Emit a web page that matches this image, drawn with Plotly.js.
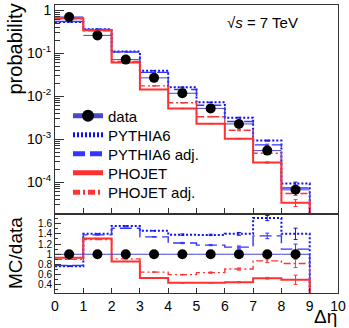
<!DOCTYPE html>
<html><head><meta charset="utf-8">
<script src="https://cdn.plot.ly/plotly-3.0.1.min.js"></script>
<style>html,body{margin:0;padding:0;background:#fff}#c{width:349px;height:328px}</style>
</head><body><div id="c"></div>
<script>
// ---- data ----
const binEdges = [0,1,2,3,4,5,6,7,8,9,10];
const binCenters = [0.5,1.5,2.5,3.5,4.5,5.5,6.5,7.5,8.5];
const xTickVals = [0,1,2,3,4,5,6,7,8,9,10];
const dataProb   = [0.70, 0.26, 0.071, 0.0267, 0.0117, 0.0052, 0.00226, 0.00054, 0.000066];
const pythia6    = [0.536, 0.364, 0.110, 0.0390, 0.0162, 0.00718, 0.00316, 0.000923, 0.0000924];
const pythia6Adj = [0.546, 0.359, 0.107, 0.0358, 0.0143, 0.00614, 0.00258, 0.000734, 0.0000726];
const phojet     = [0.651, 0.341, 0.0611, 0.0143, 0.00515, 0.00229, 0.00102, 0.000286, 0.0000330];
const phojetAdj  = [0.630, 0.335, 0.0646, 0.0174, 0.00702, 0.00333, 0.00161, 0.000470, 0.0000541];
const ratioPythia6    = [0.765, 1.40, 1.555, 1.46, 1.385, 1.38, 1.40, 1.71, 1.40];
const ratioPythia6Adj = [0.78, 1.38, 1.51, 1.34, 1.22, 1.18, 1.14, 1.36, 1.10];
const ratioPhojet     = [0.93, 1.31, 0.86, 0.535, 0.44, 0.44, 0.45, 0.53, 0.50];
const ratioPhojetAdj  = [0.90, 1.29, 0.91, 0.65, 0.60, 0.64, 0.71, 0.87, 0.82];
// relative statistical uncertainties of the MC
const relErrPythia6    = [0,0,0,0,0.01,0.01,0.02,0.03,0.08];
const relErrPythia6Adj = [0,0,0,0,0.01,0.01,0.02,0.04,0.09];
const relErrPhojet     = [0,0,0,0,0.01,0.01,0.02,0.03,0.18];
const relErrPhojetAdj  = [0,0,0,0,0.01,0.02,0.03,0.04,0.10];
const logTickVals = [1, 0.1, 0.01, 0.001, 0.0001];
const logTickText = ['1','10<sup>-1</sup>','10<sup>-2</sup>','10<sup>-3</sup>','10<sup>-4</sup>'];
const ratioTickVals = [0.4,0.6,0.8,1,1.2,1.4,1.6];
const ratioTickText = ['0.4','0.6','0.8','1','1.2','1.4','1.6'];

// ---- styles ----
const FONT = 'Liberation Sans, Arial, Helvetica, sans-serif';
const BLUE = '#1010f0', RED = '#ff3030', DATALINE = '#4848c8', AX = '#333';
const series = [
  {name:'PYTHIA6',      top:pythia6,    ratio:ratioPythia6,    err:relErrPythia6,    color:BLUE, dash:'2px,2px',          width:2,   lg:'legend2'},
  {name:'PYTHIA6 adj.', top:pythia6Adj, ratio:ratioPythia6Adj, err:relErrPythia6Adj, color:'#3535ff', dash:'12px,5px',  width:1.4, lg:'legend3'},
  {name:'PHOJET',       top:phojet,     ratio:ratioPhojet,     err:relErrPhojet,     color:RED,  dash:'solid',            width:2,   lg:'legend4'},
  {name:'PHOJET adj.',  top:phojetAdj,  ratio:ratioPhojetAdj,  err:relErrPhojetAdj,  color:'#ff3535', dash:'7px,3px,2px,3px', width:1.4, lg:'legend5'}
];
const LOG_FLOOR = 1e-8; // empty bins on the log panel

function stepTrace(vals, empty, xa, ya, s, showLeg) {
  const x = binEdges.slice();
  const y = vals.concat([empty, empty]);
  return {x:x, y:y, xaxis:xa, yaxis:ya, mode:'lines', line:{shape:'hv', color:s.color, width:s.width, dash:s.dash},
          name:s.name, showlegend:showLeg, legend:s.lg, hoverinfo:'skip', cliponaxis:true};
}
function errTrace(vals, rel, xa, ya, s) {
  return {x:binCenters, y:vals, xaxis:xa, yaxis:ya, mode:'markers', marker:{size:1, opacity:0, color:s.color},
          error_y:{type:'data', array:vals.map((v,i)=>v*rel[i]), color:s.color, thickness:1, width:2},
          showlegend:false, hoverinfo:'skip'};
}
function dataTrace(vals, xa, ya, showLeg) {
  const x=[], y=[], sz=[];
  vals.forEach((v,i)=>{ x.push(binEdges[i], binCenters[i], binEdges[i+1], null); y.push(v,v,v,null); sz.push(0,10,0,0); });
  return {x:x, y:y, xaxis:xa, yaxis:ya, mode:'lines+markers', name:'data', legend:'legend', showlegend:showLeg,
          line:{color:DATALINE, width:1}, marker:{color:'#000', size:sz, opacity:1, line:{width:0, color:'#000'}}, hoverinfo:'skip'};
}

const traces = [];
series.forEach(s => traces.push(stepTrace(s.top, LOG_FLOOR, 'x2', 'y', s, true)));
series.forEach(s => traces.push(errTrace(s.top, s.err, 'x2', 'y', s)));
traces.push(dataTrace(dataProb, 'x2', 'y', true));
series.forEach(s => traces.push(stepTrace(s.ratio, 0, 'x', 'y2', s, false)));
series.forEach(s => traces.push(errTrace(s.ratio, s.err, 'x', 'y2', s)));
traces.push(dataTrace(dataProb.map(v => v / v), 'x', 'y2', false));

const minorLog = [];
for (let k=-5;k<=0;k++) for (let m=2;m<=9;m++) minorLog.push(m*Math.pow(10,k));

// plot area: y from 5 to 293 px (288 px)
function py(p){ return (293 - p) / 288; }
function px(p){ return (p - 55) / 283; }
const legRowY = [116, 135, 154, 173, 192.5];
function leg(i){ return {x:px(68), y:py(legRowY[i]), xanchor:'left', yanchor:'middle', bgcolor:'rgba(0,0,0,0)',
  borderwidth:0, font:{family:FONT, size:15, color:'#000'}, itemsizing:'constant', itemwidth:30, tracegroupgap:0}; }

const axisCommon = {showline:true, mirror:true, linecolor:AX, linewidth:1, ticks:'inside', tickcolor:AX, showgrid:false, zeroline:false};
const layout = {
  width:349, height:328, margin:{l:55, r:11, t:5, b:35}, paper_bgcolor:'#fff', plot_bgcolor:'#fff',
  font:{family:FONT, color:'#000'}, showlegend:true,
  legend:leg(0), legend2:leg(1), legend3:leg(2), legend4:leg(3), legend5:leg(4),
  xaxis:Object.assign({}, axisCommon, {anchor:'y2', range:[0,10], tickmode:'array', tickvals:xTickVals, ticklen:5,
        tickfont:{family:FONT, size:14}}),
  xaxis2:Object.assign({}, axisCommon, {anchor:'y', matches:'x', range:[0,10], tickmode:'array', tickvals:xTickVals, ticklen:5, showticklabels:false}),
  yaxis:Object.assign({}, axisCommon, {domain:[py(213),1], type:'log', range:[-4.72, 0.123], tickmode:'array',
        tickvals:logTickVals, ticktext:logTickText, ticklen:9, tickfont:{family:FONT, size:14},
        minor:{tickmode:'array', tickvals:minorLog, ticks:'inside', ticklen:5, tickcolor:AX, showgrid:false}}),
  yaxis2:Object.assign({}, axisCommon, {domain:[0, py(215)], range:[0.24, 1.77], tickmode:'array',
        tickvals:ratioTickVals, ticktext:ratioTickText, ticklen:6, tickfont:{family:FONT, size:10},
        minor:{dtick:0.1, ticks:'inside', ticklen:3, tickcolor:AX, showgrid:false}}),
  annotations:[
    {text:'probability', xref:'paper', yref:'paper', x:px(15), y:py(2), textangle:-90, xanchor:'center', yanchor:'top',
     showarrow:false, font:{family:FONT, size:20}},
    {text:'MC/data', xref:'paper', yref:'paper', x:px(15), y:py(253), textangle:-90, xanchor:'center', yanchor:'middle',
     showarrow:false, font:{family:FONT, size:19}},
    {text:'Δη', xref:'paper', yref:'paper', x:px(339), y:py(329), xanchor:'right', yanchor:'bottom',
     showarrow:false, font:{family:FONT, size:19}},
    {text:'√<i>s</i> = 7 TeV', xref:'paper', yref:'paper', x:px(262), y:py(22), xanchor:'center', yanchor:'middle',
     showarrow:false, font:{family:FONT, size:15}}
  ]
};
Plotly.newPlot('c', traces, layout, {staticPlot:true, displayModeBar:false});
</script></body></html>
